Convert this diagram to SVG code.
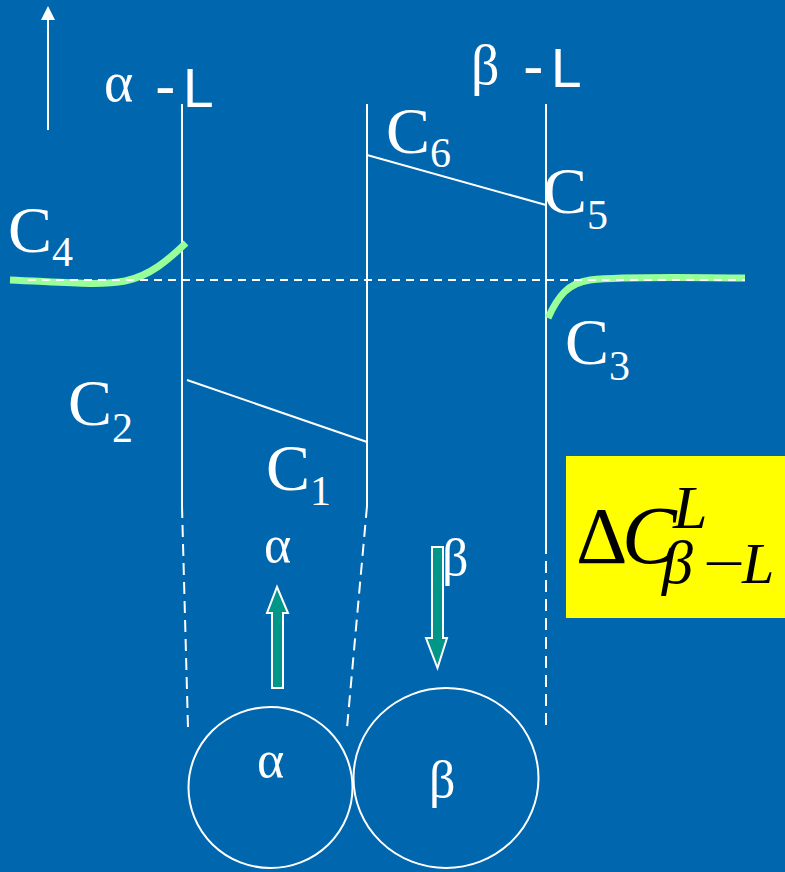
<svg xmlns="http://www.w3.org/2000/svg" width="785" height="872" viewBox="0 0 785 872">
<defs>
<style>
.ln{stroke:#fff;stroke-width:2;fill:none}
.dl{stroke:#fff;stroke-width:2;fill:none;stroke-dasharray:12 7}
.gr{stroke:#99ff99;stroke-width:7;fill:none;stroke-linecap:butt}
.ser{font-family:"Liberation Serif","DejaVu Serif",serif;fill:#fff}
.san{font-family:"Liberation Sans",Arial,sans-serif;fill:#fff}
.ar{fill:#009688;stroke:#fff;stroke-width:2}
.bk{font-family:"Liberation Serif","DejaVu Serif",serif;fill:#000}
</style>
</defs>
<rect width="785" height="872" fill="#0066ae"/>
<g id="axis">
<line class="ln" x1="48" y1="130" x2="48" y2="18"/>
<polygon points="48,6 41,20 55,20" fill="#fff"/>
</g>
<g id="labels-top">
<text class="ser" x="104" y="101" font-size="56">α</text>
<text class="san" x="155" y="107" font-size="62">-</text>
<text class="san" x="183" y="107" font-size="55">L</text>
<text class="ser" x="471" y="84" font-size="56">β</text>
<text class="san" x="523" y="87" font-size="62">-</text>
<text class="san" x="551" y="87" font-size="55">L</text>
</g>
<g id="connectors">
<line class="ln" x1="182" y1="104" x2="182" y2="506"/>
<line class="ln" x1="367" y1="104" x2="367" y2="506"/>
<line class="ln" x1="546" y1="104" x2="546" y2="542"/>
<line class="dl" x1="182" y1="506" x2="188" y2="728"/>
<line class="dl" x1="367" y1="506" x2="347" y2="728"/>
<line class="dl" x1="546" y1="542" x2="546" y2="728"/>
<line class="ln" x1="367" y1="155" x2="546" y2="205"/>
<line class="ln" x1="187" y1="380" x2="367" y2="442"/>
<path class="gr" d="M10,280 C60,282 100,286 125,281 C150,276 168,260 186,243"/>
<path class="gr" d="M548,318 C558,296 568,283 590,280 C630,276 700,278 745,278"/>
<line stroke="#fff" stroke-width="2" stroke-dasharray="8 6" x1="28" y1="280" x2="745" y2="280"/>
</g>
<g id="c-labels" class="ser">
<text x="386" y="153" font-size="66">C<tspan font-size="42" dy="14">6</tspan></text>
<text x="543" y="213" font-size="66">C<tspan font-size="42" dy="16">5</tspan></text>
<text x="8" y="252" font-size="66">C<tspan font-size="42" dy="14">4</tspan></text>
<text x="565" y="364" font-size="66">C<tspan font-size="42" dy="16">3</tspan></text>
<text x="68" y="425" font-size="66">C<tspan font-size="42" dy="17">2</tspan></text>
<text x="266" y="490" font-size="66">C<tspan font-size="42" dy="15">1</tspan></text>
</g>
<g id="delta-box">
<rect x="566" y="456" width="219" height="162" fill="#ffff00"/>
<text class="bk" x="576" y="563" font-size="80">Δ</text>
<text class="bk" x="622" y="563" font-size="82" font-style="italic">C</text>
<text class="bk" x="673" y="528" font-size="62" font-style="italic">L</text>
<text class="bk" x="662" y="583" font-size="62" font-style="italic">β</text>
<text class="bk" x="703" y="583" font-size="58" textLength="42" lengthAdjust="spacingAndGlyphs">−</text>
<text class="bk" x="742" y="583" font-size="58" font-style="italic">L</text>
</g>
<g id="flux-alpha">
<text class="ser" x="264" y="562" font-size="52">α</text>
<polygon class="ar" points="277,587 288,613 283,613 283,688 272,688 272,613 267,613"/>
</g>
<g id="flux-beta">
<text class="ser" x="442" y="575" font-size="52">β</text>
<polygon class="ar" points="432,547 443,547 443,638 447,638 437.5,668 426,638 432,638"/>
</g>
<g id="grain-alpha">
<ellipse class="ln" cx="270.5" cy="787.5" rx="82" ry="80.5"/>
<text class="ser" x="257" y="777" font-size="52">α</text>
</g>
<g id="grain-beta">
<ellipse class="ln" cx="446" cy="778" rx="92.5" ry="90"/>
<text class="ser" x="429" y="797" font-size="52">β</text>
</g>
</svg>
